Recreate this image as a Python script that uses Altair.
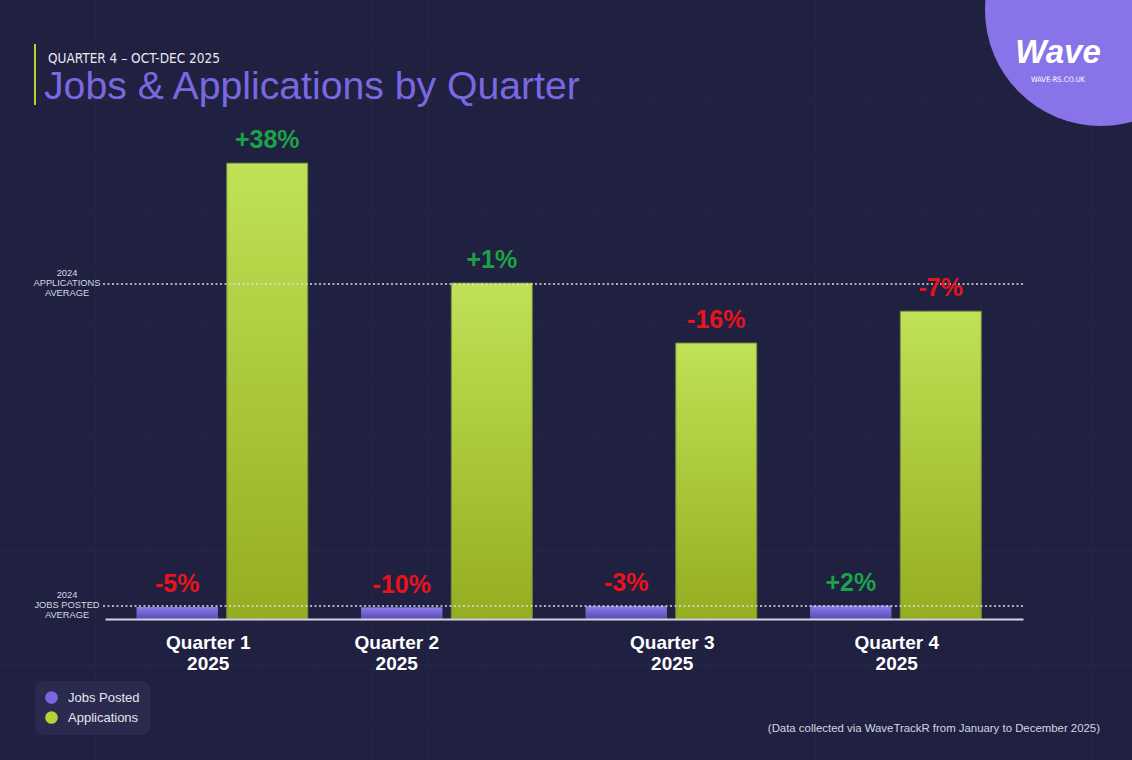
import altair as alt
import pandas as pd

# ---- data (index: 2024 average applications per quarter = 100) ----
quarters = ["Quarter 1", "Quarter 2", "Quarter 3", "Quarter 4"]
jobs_posted = [3.6, 3.4, 3.8, 3.95]
applications = [136.1, 100.3, 82.4, 91.9]
jobs_change = [-5, -10, -3, 2]
apps_change = [38, 1, -16, -7]
series_names = ["Jobs Posted", "Applications"]
avg_names = ["2024\nAPPLICATIONS\nAVERAGE", "2024\nJOBS POSTED\nAVERAGE"]
avg_values = [100.0, 3.88]

rows = []
for i, q in enumerate(quarters):
    rows.append({"quarter": q, "series": "Jobs Posted", "value": jobs_posted[i], "change": jobs_change[i]})
    rows.append({"quarter": q, "series": "Applications", "value": applications[i], "change": apps_change[i]})
df = pd.DataFrame(rows)
avg_df = pd.DataFrame({"name": avg_names, "value": avg_values})
one = pd.DataFrame({"k": [0]})

BG = "#202041"
GRID = "#252547"
PURPLE = "#7b66e0"
GREEN = "#b5d334"
COND = "'DejaVu Sans Condensed', 'Liberation Sans', sans-serif"
W, H = 918, 479

# ---- faint background grid (decoration) ----
ident = alt.Scale(domain=[0, W], range=[0, W], zero=False, nice=False)
ident_y = alt.Scale(domain=[0, H], range=[0, H], zero=False, nice=False)
grid_v = alt.Chart(alt.sequence(0, 21, as_="i")).transform_calculate(
    px="40 + 55.4 * datum.i - 105"
).mark_rule(color=GRID, strokeWidth=1).encode(
    x=alt.X("px:Q", scale=ident, axis=None), y=alt.value(-140), y2=alt.value(620))
grid_h = alt.Chart(alt.sequence(0, 14, as_="i")).transform_calculate(
    py="43 + 56.5 * datum.i - 140"
).mark_rule(color=GRID, strokeWidth=1).encode(
    y=alt.Y("py:Q", scale=ident_y, axis=None), x=alt.value(-105), x2=alt.value(1027))

x_enc = alt.X(
    "quarter:N",
    sort=quarters,
    scale=alt.Scale(paddingInner=0, paddingOuter=0.0445, align=0.25),
    axis=alt.Axis(
        title=None, ticks=False, labelAngle=0, domainColor="#d4d4e0", domainWidth=2,
        labelColor="#ffffff", labelFont="Liberation Sans", labelFontSize=19,
        labelFontWeight="bold", labelLineHeight=21, labelPadding=14, zindex=1,
        labelExpr="[datum.label, '2025']",
        labelOffset={"condition": [
            {"test": "datum.value === 'Quarter 1'", "value": -14},
            {"test": "datum.value === 'Quarter 2'", "value": -50},
        ], "value": 1},
    ),
)
xo_enc = alt.XOffset("series:N", sort=series_names,
                     scale=alt.Scale(paddingInner=0.1, paddingOuter=0.297))
y_enc = alt.Y("value:Q", scale=alt.Scale(domain=[0, 143], nice=False, zero=True), axis=None)

base = alt.Chart(df)

bars = base.mark_bar().encode(
    x=x_enc, xOffset=xo_enc, y=y_enc,
    color=alt.Color("series:N", sort=series_names,
                    scale=alt.Scale(domain=series_names, range=[PURPLE, GREEN]),
                    legend=alt.Legend(title=None, orient="none", legendX=-70, legendY=541,
                                      fillColor="#2a2a4e", padding=10, cornerRadius=8,
                                      symbolType="circle", symbolSize=160, symbolStrokeWidth=0,
                                      labelColor="#e6e6ee", labelFontSize=13, zindex=1,
                                      labelFont="Liberation Sans", rowPadding=6, labelOffset=10)),
)

grad_purple = alt.LinearGradient(gradient="linear", x1=0, x2=0, y1=0, y2=1, stops=[
    alt.GradientStop(color="#8d7ce8", offset=0), alt.GradientStop(color="#5a4ab4", offset=1)])
grad_green = alt.LinearGradient(gradient="linear", x1=0, x2=0, y1=0, y2=1, stops=[
    alt.GradientStop(color="#bfe256", offset=0), alt.GradientStop(color="#96ad20", offset=1)])

jobs_bars = base.transform_filter("datum.series === 'Jobs Posted'").mark_bar(fill=grad_purple).encode(
    x=x_enc, xOffset=xo_enc, y=y_enc)
apps_bars = base.transform_filter("datum.series === 'Applications'").mark_bar(
    fill=grad_green, stroke="#6f7f45", strokeWidth=1).encode(x=x_enc, xOffset=xo_enc, y=y_enc)

labels = base.transform_calculate(
    lbl="(datum.change > 0 ? '+' : '') + datum.change + '%'"
).mark_text(font="Liberation Sans", fontSize=25, fontWeight="bold", baseline="alphabetic", dy=-15).encode(
    x=x_enc, xOffset=xo_enc, y=y_enc, text="lbl:N",
    color=alt.condition("datum.change >= 0", alt.value("#1ba348"), alt.value("#e8141c")),
)

avg_rules = alt.Chart(avg_df).mark_rule(color="#dcdce6", strokeWidth=1.6, strokeDash=[2, 2.5]).encode(
    y=y_enc, x=alt.value(-2), x2=alt.value(W))
avg_text = alt.Chart(avg_df).mark_text(font="Liberation Sans", fontSize=9.3, color="#d8d8e4",
                                       lineBreak="\n", lineHeight=10, align="center",
                                       baseline="middle", dy=-11).encode(
    y=y_enc, x=alt.value(-38), text="name:N")

def txt(text, x, y, **kw):
    return alt.Chart(one).mark_text(text=text, **kw).encode(x=alt.value(x), y=alt.value(y))

accent = alt.Chart(one).mark_rule(color=GREEN, strokeWidth=2).encode(
    x=alt.value(-70), y=alt.value(-96), y2=alt.value(-35))
subtitle = txt("QUARTER 4 – OCT-DEC 2025", -57, -77, font=COND, fontSize=13.5,
               color="#e8e8f0", align="left", baseline="alphabetic")
title = txt("Jobs & Applications by Quarter", -61, -41, font="Liberation Sans", fontSize=39.2,
            color="#7b68e0", align="left", baseline="alphabetic")
logo_circle = alt.Chart(one).mark_circle(size=53824, color="#8873e8", opacity=1).encode(
    x=alt.value(996), y=alt.value(-130))
logo = txt("Wave", 953, -77, font="Liberation Sans", fontSize=33, fontWeight="bold",
           fontStyle="italic", color="#ffffff", align="center", baseline="alphabetic")
logo_url = txt("WAVE-RS.CO.UK", 953, -58, font=COND, fontSize=7.5,
               color="#ffffff", align="center", baseline="alphabetic")
footnote = txt("(Data collected via WaveTrackR from January to December 2025)", 995, 589,
               font="Liberation Sans", fontSize=11.4, color="#d6d6e2", align="right", baseline="middle")

main = alt.layer(
    bars, jobs_bars, apps_bars, avg_rules, avg_text, labels,
    accent, subtitle, title, logo_circle, logo, logo_url, footnote,
)

chart = alt.layer(grid_v, grid_h, main).resolve_scale(
    x="independent", y="independent"
).properties(
    width=W, height=H,
    autosize=alt.AutoSizeParams(type="none"),
    padding={"left": 105, "top": 140, "right": 109, "bottom": 141},
    background=BG,
).configure_view(stroke=None)

chart.save("out.html", embed_options={"renderer": "svg", "actions": False})
